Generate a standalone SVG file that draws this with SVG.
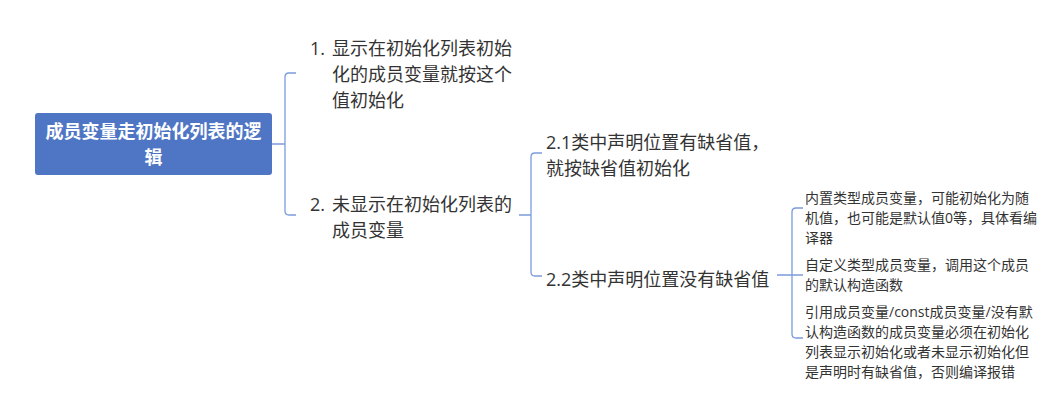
<svg xmlns="http://www.w3.org/2000/svg" width="1055" height="409" viewBox="0 0 1055 409">
<style>
.t{font-family:"Open Sans","Noto Sans CJK SC",sans-serif;fill:#333333}
.n{font-size:18px}
.s{font-size:14px}
.c{fill:none;stroke:#7b9cdc;stroke-width:1.3}
.root{font-family:"Noto Sans CJK SC","Noto Sans",sans-serif;font-size:18px;font-weight:bold;fill:#ffffff}
</style>
<rect width="1055" height="409" fill="#ffffff"/>
<g id="connectors">
<path class="c" d="M272 144H285M296 73H289Q285 73 285 77V211Q285 215 289 215H296"/>
<path class="c" d="M519 215H531M542 153H535Q531 153 531 157V272Q531 276 535 276H542"/>
<path class="c" d="M777 275H792M803 208H796Q792 208 792 212V334Q792 338 796 338H803M792 275H803"/>
</g>
<g id="root">
<rect x="35" y="113" width="237" height="62" rx="3" fill="#4f76c4"/>
<text class="root" x="153.5" y="138" text-anchor="middle">成员变量走初始化列表的逻</text>
<text class="root" x="153.5" y="164" text-anchor="middle">辑</text>
</g>
<g id="n1">
<text class="t n" x="310" y="55">1.</text>
<text class="t n" x="332" y="55">显示在初始化列表初始</text>
<text class="t n" x="332" y="81">化的成员变量就按这个</text>
<text class="t n" x="332" y="107">值初始化</text>
</g>
<g id="n2">
<text class="t n" x="310" y="211">2.</text>
<text class="t n" x="332" y="211">未显示在初始化列表的</text>
<text class="t n" x="332" y="237">成员变量</text>
</g>
<g id="n21">
<text class="t n" x="546" y="149">2.1类中声明位置有缺省值，</text>
<text class="t n" x="546" y="175">就按缺省值初始化</text>
</g>
<g id="n22">
<text class="t n" x="546" y="286">2.2类中声明位置没有缺省值</text>
</g>
<g id="l1">
<text class="t s" x="805" y="203">内置类型成员变量，可能初始化为随</text>
<text class="t s" x="805" y="223">机值，也可能是默认值0等，具体看编</text>
<text class="t s" x="805" y="243">译器</text>
</g>
<g id="l2">
<text class="t s" x="805" y="270">自定义类型成员变量，调用这个成员</text>
<text class="t s" x="805" y="290">的默认构造函数</text>
</g>
<g id="l3">
<text class="t s" x="805" y="317">引用成员变量/const成员变量/没有默</text>
<text class="t s" x="805" y="337">认构造函数的成员变量必须在初始化</text>
<text class="t s" x="805" y="357">列表显示初始化或者未显示初始化但</text>
<text class="t s" x="805" y="377">是声明时有缺省值，否则编译报错</text>
</g>
</svg>
